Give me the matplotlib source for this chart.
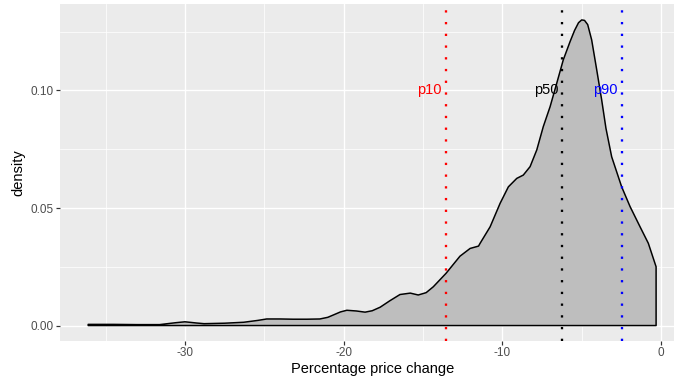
import numpy as np
import matplotlib.pyplot as plt

# Estimated density curve
price_change = [-36.1, -34.5, -33.0, -31.6, -30.6, -30.0, -29.3, -28.8, -27.5, -26.3,
                -25.4, -24.85, -24.0, -23.2, -22.3, -21.5, -21.0, -20.65, -20.2, -19.8,
                -19.2, -18.65, -18.2, -17.7, -17.1, -16.45, -15.8, -15.3, -14.8, -14.35,
                -13.55, -12.67, -12.03, -11.5, -11.4, -10.77, -10.14, -9.62, -9.09, -8.68,
                -8.25, -7.83, -7.42, -6.99, -6.57, -6.16, -5.73, -5.45, -5.2, -5.0,
                -4.82, -4.62, -4.37, -4.05, -3.74, -3.47, -3.11, -2.48, -1.95, -1.32,
                -0.80, -0.31]
density = [0.0005, 0.0005, 0.0004, 0.0004, 0.0012, 0.0016, 0.0011, 0.0008, 0.0010, 0.0014,
           0.0022, 0.0028, 0.0028, 0.0027, 0.0027, 0.0028, 0.0035, 0.0045, 0.0058, 0.0065,
           0.0062, 0.0057, 0.0063, 0.0078, 0.0105, 0.0132, 0.0138, 0.0130, 0.0140, 0.0165,
           0.0222, 0.0295, 0.0328, 0.0338, 0.0350, 0.0420, 0.0520, 0.0590, 0.0626, 0.0640,
           0.0676, 0.0747, 0.0846, 0.0931, 0.1031, 0.1130, 0.1208, 0.1255, 0.1288, 0.1300,
           0.1298, 0.1280, 0.1215, 0.1087, 0.0960, 0.0839, 0.0718, 0.0590, 0.0506, 0.0420,
           0.0350, 0.0250]

# Percentiles
pct_labels = ["p10", "p50", "p90"]
pct_values = [-13.57, -6.24, -2.48]
pct_colors = ["#FF0000", "#000000", "#0000FF"]

x_ticks = [-30, -20, -10, 0]
y_ticks = [0.00, 0.05, 0.10]

plt.rcParams['font.family'] = ['Liberation Sans', 'DejaVu Sans']

W, H = 674, 379
fig = plt.figure(figsize=(W / 72, H / 72), dpi=72)
ax = fig.add_axes([60.4 / W, (H - 340.6) / H, (684.5 - 60.4) / W, (340.6 - 4.4) / H])
ax.set_facecolor("#EBEBEB")
for s in ax.spines.values():
    s.set_visible(False)

ax.set_xlim(-37.85, 1.48)
ax.set_ylim(-0.0064, 0.1366)

ax.set_xticks(x_ticks)
ax.set_xticklabels([str(v) for v in x_ticks])
ax.set_yticks(y_ticks)
ax.set_yticklabels(["%.2f" % v for v in y_ticks])
ax.set_xticks([-35, -25, -15, -5], minor=True)
ax.set_yticks([0.025, 0.075, 0.125], minor=True)
ax.grid(which="major", color="white", linewidth=1.4)
ax.grid(which="minor", color="white", linewidth=0.7)
ax.set_axisbelow(True)
ax.tick_params(which="major", length=3.6, width=1.2, color="#333333",
               labelsize=11.7, labelcolor="#4D4D4D", pad=2.9)
ax.tick_params(which="minor", length=0)

xs = np.array(price_change)
ys = np.array(density)
poly_x = np.concatenate([xs, [xs[-1], xs[0]]])
poly_y = np.concatenate([ys, [0, 0]])
ax.fill(poly_x, poly_y, facecolor="#BEBEBE", edgecolor="black", linewidth=1.5,
        joinstyle="round", zorder=2)

for lab, v, c in zip(pct_labels, pct_values, pct_colors):
    ax.axvline(v, color=c, linewidth=2.3, linestyle=(0, (1, 4.1)), zorder=3)
    ax.text(v - 0.23, 0.10, lab, color=c, ha="right", va="center", fontsize=14.6, zorder=4)

ax.set_xlabel("Percentage price change", fontsize=14.6, labelpad=3)
ax.set_ylabel("density", fontsize=14.6, labelpad=5)

fig.savefig("out.png", dpi=72)
